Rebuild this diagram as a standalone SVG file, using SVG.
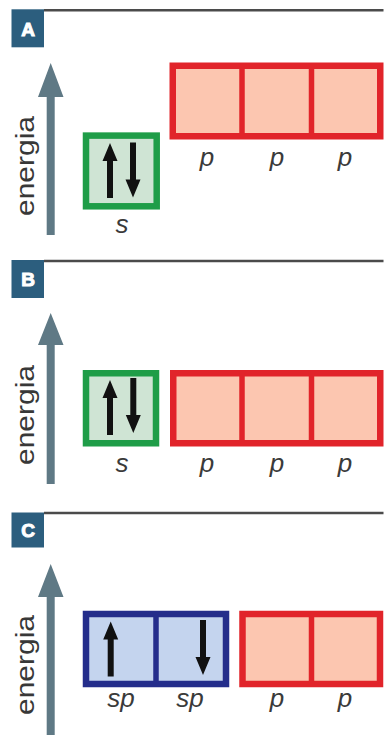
<svg xmlns="http://www.w3.org/2000/svg" width="385" height="735" viewBox="0 0 385 735">
  <style>
    .rule { stroke: #4b4b4b; stroke-width: 2.5; }
    .tag { fill: #2c5e7e; }
    .tagtxt { font-family: "Liberation Sans", Arial, sans-serif; font-weight: bold; font-size: 19px; fill: #ffffff; stroke: #ffffff; stroke-width: 1; text-anchor: middle; }
    .axis { fill: #5f7985; }
    .axtxt { font-family: "Liberation Sans", Arial, sans-serif; font-size: 26px; fill: #383838; text-anchor: middle; }
    .s { fill: #cfe4d4; stroke: #1f9d48; stroke-width: 6.5; }
    .p { fill: #fcc6b0; stroke: #e1242a; stroke-width: 6.5; }
    .sp { fill: #c4d4ee; stroke: #242d8b; stroke-width: 6.5; }
    .pdiv { stroke: #e1242a; stroke-width: 5.5; }
    .spdiv { stroke: #242d8b; stroke-width: 5.5; }
    .lbl { font-family: "Liberation Sans", Arial, sans-serif; font-style: italic; font-size: 26px; fill: #3a3a3a; text-anchor: middle; }
    .e { fill: #111111; }
  </style>
  <defs>
    <!-- electron spin arrows, 55 px long, origin at the top of the arrow -->
    <polygon id="up" points="0,0 7.5,18 3,18 3,55 -3,55 -3,18 -7.5,18"/>
    <polygon id="down" points="0,55 7.5,37 3,37 3,0 -3,0 -3,37 -7.5,37"/>
  </defs>

  <!-- ===== Panel A: ground state ===== -->
  <g id="panelA">
    <line class="rule" x1="44" y1="10.3" x2="383.5" y2="10.3"/>
    <g id="tagA">
      <rect class="tag" x="11.5" y="9.3" width="32.5" height="38"/>
      <text class="tagtxt" x="28" y="35.5">A</text>
    </g>
    <g id="axisA">
      <polygon class="axis" points="50.7,63 63.5,97 54.7,97 54.7,235 46.7,235 46.7,97 38,97"/>
      <text class="axtxt" transform="translate(34 166) rotate(-90)" textLength="100" lengthAdjust="spacingAndGlyphs">energia</text>
    </g>
    <g id="sA">
      <rect class="s" x="86" y="135.6" width="70.7" height="70.7"/>
      <use href="#up" class="e" x="110" y="143"/>
      <use href="#down" class="e" x="133" y="142.5"/>
      <text class="lbl" x="122" y="233">s</text>
    </g>
    <g id="pA">
      <rect class="p" x="172.75" y="65.75" width="207.5" height="70.5"/>
      <line class="pdiv" x1="242" y1="66" x2="242" y2="136"/>
      <line class="pdiv" x1="311.5" y1="66" x2="311.5" y2="136"/>
      <text class="lbl" x="207" y="166">p</text>
      <text class="lbl" x="277" y="166">p</text>
      <text class="lbl" x="345" y="166">p</text>
    </g>
  </g>

  <!-- ===== Panel B: promoted level ===== -->
  <g id="panelB">
    <line class="rule" x1="44" y1="261" x2="383.5" y2="261"/>
    <g id="tagB">
      <rect class="tag" x="11.5" y="260" width="32.5" height="38"/>
      <text class="tagtxt" x="28" y="286">B</text>
    </g>
    <g id="axisB">
      <polygon class="axis" points="50.7,313 63.5,345 54.7,345 54.7,484 46.7,484 46.7,345 38,345"/>
      <text class="axtxt" transform="translate(34 415) rotate(-90)" textLength="100" lengthAdjust="spacingAndGlyphs">energia</text>
    </g>
    <g id="sB">
      <rect class="s" x="86" y="373.25" width="70" height="70"/>
      <use href="#up" class="e" x="110" y="380"/>
      <use href="#down" class="e" x="133.3" y="378"/>
      <text class="lbl" x="122" y="472">s</text>
    </g>
    <g id="pB">
      <rect class="p" x="173.25" y="373.25" width="207" height="70"/>
      <line class="pdiv" x1="242" y1="373.5" x2="242" y2="443"/>
      <line class="pdiv" x1="311.5" y1="373.5" x2="311.5" y2="443"/>
      <text class="lbl" x="207" y="472">p</text>
      <text class="lbl" x="277" y="472">p</text>
      <text class="lbl" x="345" y="472">p</text>
    </g>
  </g>

  <!-- ===== Panel C: sp hybridization ===== -->
  <g id="panelC">
    <line class="rule" x1="44" y1="513" x2="383.5" y2="513"/>
    <g id="tagC">
      <rect class="tag" x="11.5" y="512.5" width="32.5" height="35"/>
      <text class="tagtxt" x="28" y="537">C</text>
    </g>
    <g id="axisC">
      <polygon class="axis" points="50.7,564 63.5,597 54.7,597 54.7,735 46.7,735 46.7,597 38,597"/>
      <text class="axtxt" transform="translate(34 665) rotate(-90)" textLength="100" lengthAdjust="spacingAndGlyphs">energia</text>
    </g>
    <g id="spC">
      <rect class="sp" x="86" y="614" width="140" height="70"/>
      <line class="spdiv" x1="156" y1="614" x2="156" y2="684"/>
      <use href="#up" class="e" x="110.7" y="621.5"/>
      <use href="#down" class="e" x="203" y="620"/>
      <text class="lbl" x="121" y="707">sp</text>
      <text class="lbl" x="190" y="707">sp</text>
    </g>
    <g id="pC">
      <rect class="p" x="242.5" y="614" width="137.5" height="70"/>
      <line class="pdiv" x1="311.5" y1="614" x2="311.5" y2="684"/>
      <text class="lbl" x="277" y="707">p</text>
      <text class="lbl" x="345" y="707">p</text>
    </g>
  </g>
</svg>
